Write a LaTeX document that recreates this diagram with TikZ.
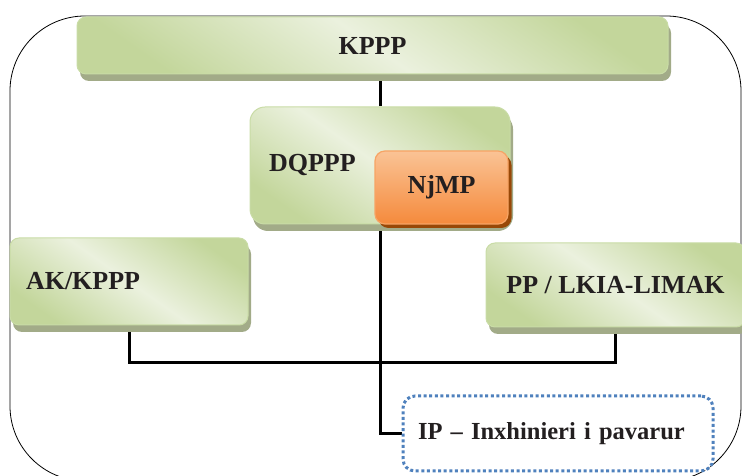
\documentclass[tikz,border=0pt]{standalone}
\usepackage{fontspec}
\setmainfont{Liberation Serif}
\usepackage{tikz}
\usetikzlibrary{shadows,backgrounds}
\definecolor{OrgGreen}{HTML}{C3D69B}
\definecolor{OrgGreenTint}{HTML}{EBF1DE}
\definecolor{OrgGreenEdge}{HTML}{C9DCA6}
\definecolor{OrgGreenShadow}{HTML}{A2AB88}
\definecolor{OrgOrange}{HTML}{F58A3C}
\definecolor{OrgOrangeTint}{HTML}{FAC395}
\definecolor{OrgOrangeEdge}{HTML}{F7A465}
\definecolor{OrgOrangeShadow}{HTML}{984807}
\definecolor{OrgBlue}{HTML}{4F81BD}
\definecolor{OrgText}{HTML}{231F20}

\begin{document}
\begin{tikzpicture}[
    x=1pt,y=1pt,
    unit/.style={draw=OrgGreenEdge,line width=1pt,rounded corners=9pt,top color=OrgGreen,bottom color=OrgGreen,middle color=OrgGreenTint,shading angle=-35,general shadow={fill=OrgGreenShadow,shadow xshift=3pt,shadow yshift=-7pt},text=OrgText,font=\fontsize{26}{31}\selectfont\bfseries},
    lead/.style={draw=OrgOrangeEdge,line width=1.2pt,rounded corners=10pt,top color=OrgOrangeTint,bottom color=OrgOrange,general shadow={fill=OrgOrangeShadow,shadow xshift=3.5pt,shadow yshift=-4pt},text=OrgText,font=\fontsize{26}{31}\selectfont\bfseries},
    ext/.style={draw=OrgBlue,fill=white,line width=3pt,dash pattern=on 3pt off 2.6pt,rounded corners=12pt,text=OrgText,font=\fontsize{24.5}{29}\selectfont\bfseries},
    link/.style={line width=3pt,black}
  ]
    \useasboundingbox (0,0) rectangle (742,476);
    \node[unit,minimum width=591pt,minimum height=57pt] (KPPP) at (372.5,430.5) {KPPP};
    \node[unit,rounded corners=15pt,minimum width=260pt,minimum height=117pt,inner xsep=19pt,text width=222pt,align=left] (DQPPP) at (380,310.5) {DQPPP};
    \node[lead,minimum width=133pt,minimum height=73pt] (NjMP) at (441.5,288.5) {NjMP};
    \node[unit,minimum width=238pt,minimum height=87pt,inner xsep=16pt,text width=206pt,align=left] (AK) at (129,194.5) {AK/KPPP};
    \node[unit,minimum width=259pt,minimum height=84pt] (PP) at (615.5,191) {PP / LKIA-LIMAK};
    \node[ext,minimum width=310pt,minimum height=75pt,inner xsep=15pt,text width=280pt,align=left] (IP) at (558,42.5) {IP – Inxhinieri i pavarur};
    \coordinate (join) at (380,113);
    \begin{scope}[on background layer]
      % frame round the whole chart
      \draw[line width=0.8pt,rounded corners=75pt] (10,-5) rectangle (741,460);
      \draw[link] (DQPPP.north) -- (DQPPP.north |- KPPP.south);
      \draw[link] (DQPPP.south) |- (IP.west);
      \draw[link] (AK.south) |- (join) -| (PP.south);
    \end{scope}
  \end{tikzpicture}
\end{document}
